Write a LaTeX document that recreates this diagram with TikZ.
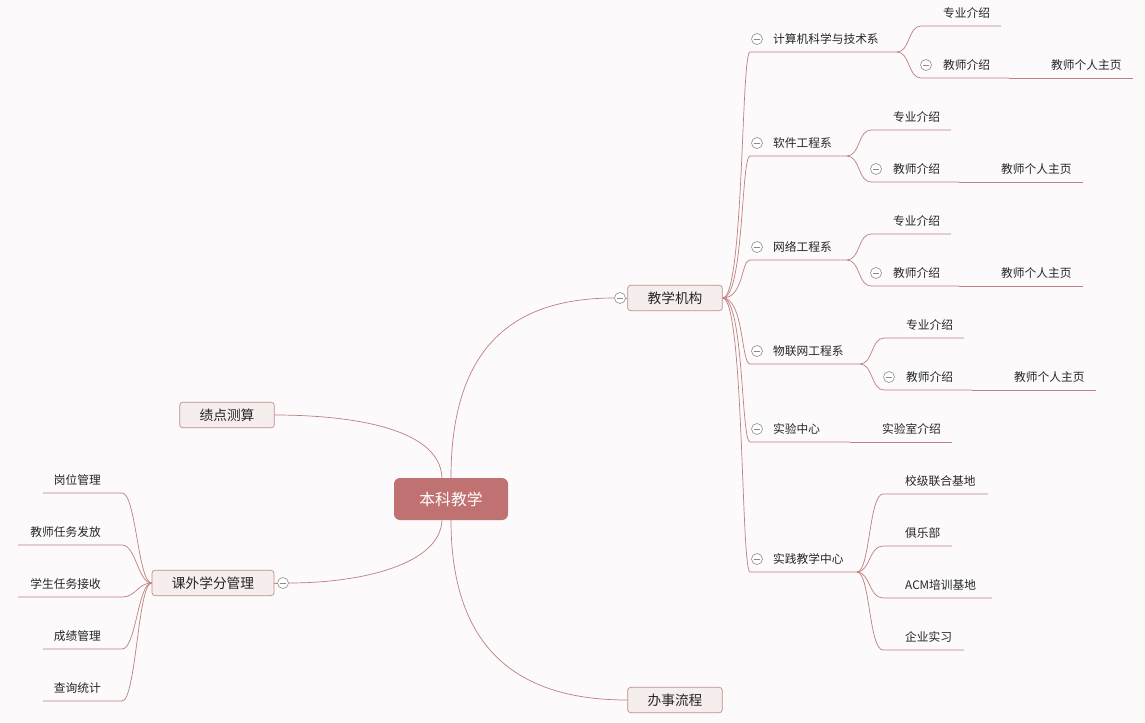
\documentclass[tikz,border=0pt]{standalone}
\usepackage{fontspec}
\setmainfont{Noto Sans CJK SC}
\usetikzlibrary{positioning,calc}
\definecolor{paperbg}{RGB}{252,250,250}
\definecolor{rootfill}{RGB}{192,114,114}
\definecolor{boxfill}{RGB}{246,237,237}
\definecolor{boxedge}{RGB}{196,140,140}
\definecolor{linkred}{RGB}{190,128,128}
\definecolor{foldgray}{RGB}{140,140,140}
\tikzset{
  rootbox/.style={rectangle, rounded corners=0.18cm, fill=rootfill, text=white,
    minimum width=3.42cm, minimum height=1.26cm, font=\fontsize{13.5}{15}\selectfont},
  topicbox/.style={rectangle, rounded corners=0.09cm, fill=boxfill, draw=boxedge,
    line width=0.6pt, inner xsep=17pt, minimum height=0.76cm, text=black!85,
    font=\fontsize{11.7}{13}\selectfont},
  leaftext/.style={inner sep=0pt, text=black!85, font=\fontsize{10}{12}\selectfont},
  linkln/.style={draw=linkred, line width=0.6pt},
  foldmark/.style={circle, draw=foldgray, fill=white, line width=0.5pt,
    minimum size=0.33cm, inner sep=0pt,
    path picture={\draw[foldgray, line width=0.5pt]
      ([xshift=-0.1cm]path picture bounding box.center) --
      ([xshift=0.1cm]path picture bounding box.center);}},
}

\begin{document}
\begin{tikzpicture}[x=0.03cm, y=-0.03cm]
    \fill[paperbg] (0,0) rectangle (1145,722);
    \useasboundingbox (0,0) rectangle (1145,722);
    % main topics
    \node[rootbox] (root) at (451,499) {本科教学};
    \node[topicbox] (org) at (675,298) {教学机构};
    \node[topicbox] (gpa) at (227,415) {绩点测算};
    \node[topicbox] (credit) at (213,583) {课外学分管理};
    \node[topicbox] (proc) at (675,700) {办事流程};
    \node[foldmark] (orgfold) at (620,298) {};
    \node[foldmark] (creditfold) at (283,583) {};
    % links from the root
    \draw[linkln] (root.north) .. controls (451,340) and (520,298) .. (orgfold.west);
    \draw[linkln] ([xshift=-0.27cm]root.north) .. controls (440,425) and (340,415) .. (gpa.east);
    \draw[linkln] ([xshift=-0.27cm]root.south) .. controls (440,565) and (360,583) .. (creditfold.east);
    \draw[linkln] (root.south) .. controls (451,660) and (530,700) .. (proc.west);
    \draw[linkln] (orgfold.east) -- (org.west);
    \draw[linkln] (creditfold.west) -- (credit.east);
    % departments under 教学机构
    \foreach \id/\lab/\yy/\xe in {cs/计算机科学与技术系/52/897, se/软件工程系/156/847,
        ne/网络工程系/260/847, iot/物联网工程系/364/860, lab/实验中心/442/850,
        prac/实践教学中心/572/857} {
      \coordinate (\id-l) at (750,\yy);
      \coordinate (\id-r) at (\xe,\yy);
      \node[foldmark] (\id-fold) at (757,\yy-13) {};
      \node[leaftext, anchor=west] (\id) at (773,\yy-13) {\lab};
      \draw[linkln] (org.east) .. controls (744,298) and (741,\yy) .. (\id-l) -- (\id-r);
    }
    % majors and teachers
    \foreach \id/\fx/\fy in {cs/897/52, se/847/156, ne/847/260, iot/860/364} {
      \coordinate (\id-mj-l) at (\fx+24,\fy-26);
      \coordinate (\id-mj-r) at (\fx+104,\fy-26);
      \coordinate (\id-tc-l) at (\fx+24,\fy+26);
      \coordinate (\id-tc-r) at (\fx+112,\fy+26);
      \coordinate (\id-hp-r) at (\fx+236,\fy+26);
      \node[leaftext, anchor=west] (\id-mj) at (\fx+46,\fy-39) {专业介绍};
      \node[foldmark] (\id-tcfold) at (\fx+29,\fy+13) {};
      \node[leaftext, anchor=west] (\id-tc) at (\fx+46,\fy+13) {教师介绍};
      \node[leaftext, anchor=west] (\id-hp) at (\fx+154,\fy+13) {教师个人主页};
      \draw[linkln] (\id-r) .. controls (\fx+13,\fy) and (\fx+11,\fy-26) .. (\id-mj-l) -- (\id-mj-r);
      \draw[linkln] (\id-r) .. controls (\fx+13,\fy) and (\fx+11,\fy+26) .. (\id-tc-l) -- (\id-tc-r);
      \draw[linkln] (\id-tc-r) -- (\id-hp-r);
    }
    % lab room
    \coordinate (labinfo-r) at (952,442);
    \node[leaftext, anchor=west] (labinfo) at (882,429) {实验室介绍};
    \draw[linkln] (lab-r) -- (labinfo-r);
    % practice bases
    \foreach \id/\lab/\yy/\xe in {base/校级联合基地/494/988, club/俱乐部/546/952,
        acm/ACM培训基地/598/992, intern/企业实习/650/964} {
      \coordinate (\id-l) at (883,\yy);
      \coordinate (\id-r) at (\xe,\yy);
      \node[leaftext, anchor=west] (\id) at (905,\yy-13) {\lab};
      \draw[linkln] (prac-r) .. controls (870,572) and (869,\yy) .. (\id-l) -- (\id-r);
    }
    % extra credit items
    \foreach \id/\lab/\yy/\xs in {post/岗位管理/493/43, issue/教师任务发放/545/18,
        accept/学生任务接收/597/18, score/成绩管理/649/43, query/查询统计/701/43} {
      \coordinate (\id-l) at (\xs,\yy);
      \coordinate (\id-r) at (122,\yy);
      \node[leaftext, anchor=east] (\id) at (101,\yy-13) {\lab};
      \draw[linkln] (credit.west) .. controls (138,583) and (136,\yy) .. (\id-r) -- (\id-l);
    }
  \end{tikzpicture}
\end{document}
